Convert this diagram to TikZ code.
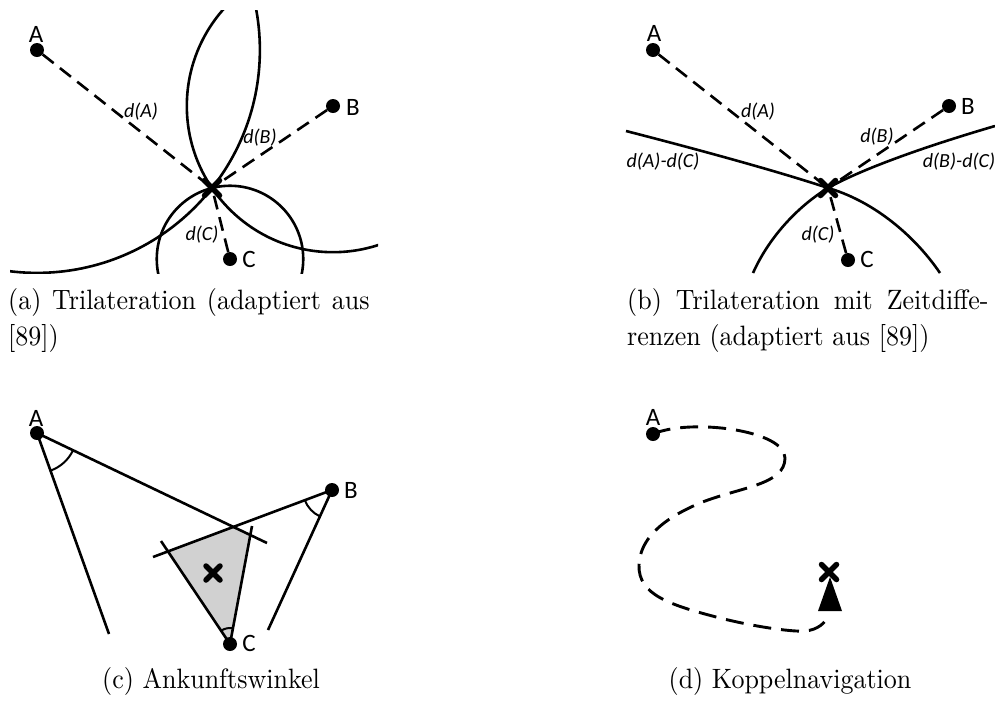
\documentclass[tikz,border=0pt]{standalone}
\usepackage{fontspec}
\usepackage{graphicx}
\newfontfamily\labfont{Carlito}
\usetikzlibrary{calc,angles}
\newcommand{\capbox}[1]{\scalebox{2.6}[2.8]{\fontsize{10}{13.2}\selectfont #1}}
\begin{document}
\begin{tikzpicture}[x=1pt,y=-1pt,
  dot/.style={circle,fill=black,inner sep=0pt,minimum size=14pt},
  lab/.style={font=\labfont\fontsize{25}{25}\selectfont,inner sep=0pt},
  dlab/.style={font=\labfont\itshape\fontsize{20}{20}\selectfont,inner sep=0pt},
  dashline/.style={line width=2.6pt,dash pattern=on 14pt off 8pt},
  longdash/.style={line width=2.9pt,dash pattern=on 18pt off 10pt},
  solidline/.style={line width=2.6pt},
  xmark/.style={line width=5.5pt,line cap=round},
  captext/.style={inner sep=0pt,anchor=base west},
  captextc/.style={inner sep=0pt,anchor=base},
  arcstyle/.style={draw,line width=2pt},
]
\useasboundingbox (0,0) rectangle (995,705);

% ---------------- panel (a)
\coordinate (aX) at (212,188);
\node[dot] (aA) at (37,50) {};
\node[dot] (aB) at (333,106) {};
\node[dot] (aC) at (230,259) {};
\node[lab] (aAl) at (36,34) {A};
\node[lab] (aBl) at (353,107) {B};
\node[lab] (aCl) at (249,259) {C};
\draw[dashline] (aA) -- (aX);
\draw[dashline] (aB) -- (aX);
\draw[dashline] (aC) -- (aX);
\begin{scope}
  \clip (10,10) rectangle (378,273);
  \draw[solidline] let \p1=($(aX)-(aA)$), \n1={veclen(\x1,\y1)} in (aA.center) circle[radius=\n1];
  \draw[solidline] let \p1=($(aX)-(aB)$), \n1={veclen(\x1,\y1)} in (aB.center) circle[radius=\n1];
  \draw[solidline] let \p1=($(aX)-(aC)$), \n1={veclen(\x1,\y1)} in (aC.center) circle[radius=\n1];
\end{scope}
\draw[xmark] ($(aX)+(-7.5,-7.5)$) -- ($(aX)+(7.5,7.5)$);
\draw[xmark] ($(aX)+(-7.5,7.5)$) -- ($(aX)+(7.5,-7.5)$);
\node[dlab] (adA) at (141,112) {d(A)};
\node[dlab] (adB) at (260,138) {d(B)};
\node[dlab] (adC) at (202,235) {d(C)};

% ---------------- panel (b)
\coordinate (bX) at (828,188);
\node[dot] (bA) at (653,50) {};
\node[dot] (bB) at (949,106) {};
\node[dot] (bC) at (848,260) {};
\node[lab] (bAl) at (654,33) {A};
\node[lab] (bBl) at (968,106) {B};
\node[lab] (bCl) at (867,259) {C};
\draw[dashline] (bA) -- (bX);
\draw[dashline] (bB) -- (bX);
\draw[dashline] (bC) -- (bX);
\coordinate (bL) at (626,131);
\coordinate (bBR) at (940,273);
\coordinate (bR) at (995,126);
\coordinate (bBL) at (753,273);
\draw[solidline] (bL) .. controls (700,150) and (780,172) .. (bX) .. controls (870,200) and (912,232) .. (bBR);
\draw[solidline] (bR) .. controls (920,148) and (860,170) .. (bX) .. controls (800,205) and (770,235) .. (bBL);
\draw[xmark] ($(bX)+(-7.5,-7.5)$) -- ($(bX)+(7.5,7.5)$);
\draw[xmark] ($(bX)+(-7.5,7.5)$) -- ($(bX)+(7.5,-7.5)$);
\node[dlab] (bdA) at (758,112) {d(A)};
\node[dlab] (bdB) at (877,137) {d(B)};
\node[dlab] (bdC) at (818,235) {d(C)};
\node[dlab] (bdAC) at (663,162) {d(A)-d(C)};
\node[dlab] (bdBC) at (959,162) {d(B)-d(C)};

% ---------------- panel (c)
\coordinate (cA) at (37,433);
\coordinate (cA1) at (267,543);
\coordinate (cA2) at (109,634);
\coordinate (cB) at (332,490);
\coordinate (cB1) at (153,557);
\coordinate (cB2) at (268,630);
\coordinate (cC) at (230,644);
\coordinate (cC1) at (161,541);
\coordinate (cC2) at (252,526);
\fill[black!18] (intersection of cB--cB1 and cC--cC1) -- (intersection of cB--cB1 and cA--cA1)
   -- (intersection of cA--cA1 and cC--cC2) -- (cC) -- cycle;
\draw[solidline] (cA) -- (cA1);
\draw[solidline] (cA) -- (cA2);
\draw[solidline] (cB) -- (cB1);
\draw[solidline] (cB) -- (cB2);
\draw[solidline] (cC) -- (cC1);
\draw[solidline] (cC) -- (cC2);
\pic[arcstyle, angle radius=40pt] {angle = cA2--cA--cA1};
\pic[arcstyle, angle radius=29pt] {angle = cB1--cB--cB2};
\pic[arcstyle, angle radius=16pt] {angle = cC2--cC--cC1};
\node[dot] (cAd) at (cA) {};
\node[dot] (cBd) at (cB) {};
\node[dot] (cCd) at (cC) {};
\node[lab] (cAl) at (36,418) {A};
\node[lab] (cBl) at (351,490) {B};
\node[lab] (cCl) at (249,643) {C};
\coordinate (cX) at (213,573);
\draw[xmark] ($(cX)+(-7,-7)$) -- ($(cX)+(7,7)$);
\draw[xmark] ($(cX)+(-7,7)$) -- ($(cX)+(7,-7)$);

% ---------------- panel (d)
\node[dot] (dA) at (653,434) {};
\node[lab] (dAl) at (653,417) {A};
\coordinate (dE) at (827,617);
\draw[longdash] (dA.center) .. controls (690,418) and (785,430) .. (785,458)
   .. controls (785,485) and (740,487) .. (700,503)
   .. controls (660,520) and (640,540) .. (639,565)
   .. controls (638,595) and (670,605) .. (720,618)
   .. controls (760,628) and (795,632) .. (805,631)
   .. controls (818,630) and (826,622) .. (dE);
\coordinate (dX) at (829,572);
\fill (830,577) -- (842,611) -- (818,611) -- cycle;
\draw[xmark] ($(dX)+(-7.5,-7.5)$) -- ($(dX)+(7.5,7.5)$);
\draw[xmark] ($(dX)+(-7.5,7.5)$) -- ($(dX)+(7.5,-7.5)$);

% ---------------- captions
\node[captext] (capa) at (8,309) {\capbox{\parbox[t]{139pt}{(a) Trilateration (adaptiert aus\linebreak{}[89])}}};
\node[captext] (capb) at (627,309) {\capbox{\parbox[t]{139pt}{(b) Trilateration mit Zeitdiffe-\linebreak{}renzen (adaptiert aus [89])}}};
\node[captextc] (capc) at (211,688) {\capbox{(c) Ankunftswinkel}};
\node[captextc] (capd) at (790,688) {\capbox{(d) Koppelnavigation}};
\end{tikzpicture}
\end{document}
